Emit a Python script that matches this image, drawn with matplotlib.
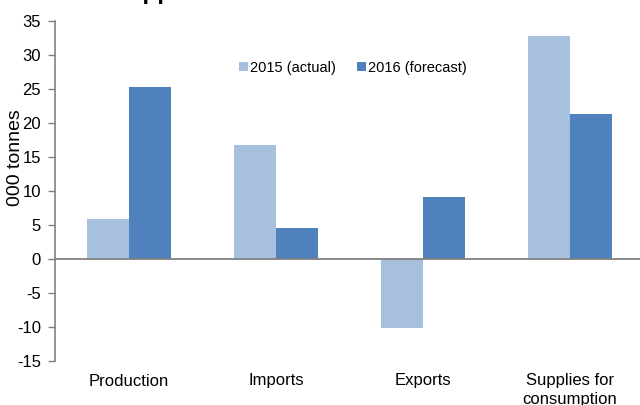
import matplotlib
matplotlib.use("Agg")
import matplotlib.pyplot as plt
import numpy as np

plt.rcParams["font.family"] = ["Liberation Sans", "DejaVu Sans"]

categories = ["Production", "Imports", "Exports", "Supplies for\nconsumption"]
series_names = ["2015 (actual)", "2016 (forecast)"]
values_2015 = [5.9, 16.7, -10.1, 32.8]
values_2016 = [25.3, 4.5, 9.1, 21.3]
y_ticks = [-15, -10, -5, 0, 5, 10, 15, 20, 25, 30, 35]

light_blue = "#A7C0DE"
mid_blue = "#4F81BD"
axis_grey = "#808080"

W, H = 640, 405
fig = plt.figure(figsize=(W / 100, H / 100), dpi=100)
ax = fig.add_axes([55 / W, (H - 361) / H, (W - 55) / W, (361 - 21) / H])

x = np.arange(len(categories))
bw = 0.284
ax.bar(x - bw / 2, values_2015, width=bw, color=light_blue, label=series_names[0], zorder=2)
ax.bar(x + bw / 2, values_2016, width=bw, color=mid_blue, label=series_names[1], zorder=2)

ax.axhline(0, color=axis_grey, lw=1.3, zorder=3)

ax.set_ylim(-15, 35)
ax.set_xlim(-0.504, 3.476)
ax.set_yticks(y_ticks)
ax.set_yticklabels([str(t) for t in y_ticks], fontsize=12)
ax.set_xticks(x)
ax.set_xticklabels(categories, fontsize=12, linespacing=1.3)
ax.tick_params(axis="x", length=0, pad=9)
ax.tick_params(axis="y", length=5, width=1, color=axis_grey, pad=5, direction="out")

for side in ("top", "right", "bottom"):
    ax.spines[side].set_visible(False)
ax.spines["left"].set_color(axis_grey)
ax.spines["left"].set_linewidth(1.2)

ax.set_ylabel("000 tonnes", fontsize=14)
ax.yaxis.set_label_coords((24 - 55) / (W - 55), (361 - 158) / 340)

ax.legend(loc="center", bbox_to_anchor=(353 / W, (H - 68) / H),
          bbox_transform=fig.transFigure, ncol=2, frameon=False,
          fontsize=10.5, handlelength=0.6, handleheight=0.6,
          handletextpad=0.2, columnspacing=1.4, borderaxespad=0)

fig.text(110 / W, (H + 1) / H, "Copper", fontsize=17.5, fontweight="bold",
         ha="left", va="baseline")

fig.savefig("out.png", dpi=100)
